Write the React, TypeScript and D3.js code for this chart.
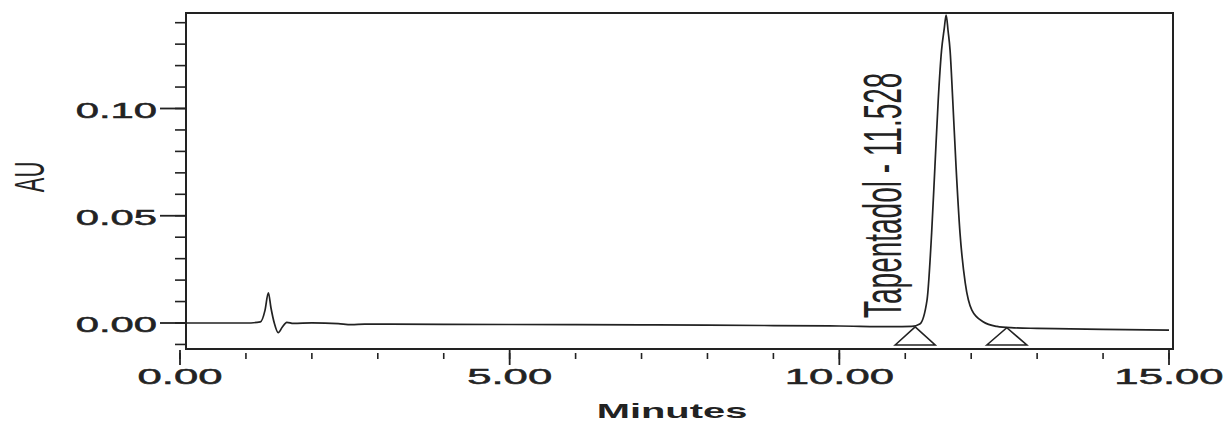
import React from "react";
import * as d3 from "d3";

// chromatogram trace (minutes, AU)
const traceTime = [
  0, 1.0, 1.22, 1.29, 1.34, 1.38, 1.43, 1.49, 1.55, 1.62, 1.72, 2.0, 2.4, 2.6, 2.8, 3.0,
  4.0, 5.0, 6.0, 7.0, 8.0, 9.0, 10.0, 10.8, 11.1, 11.22, 11.33, 11.4, 11.45, 11.5,
  11.55, 11.59, 11.62, 11.65, 11.68, 11.72, 11.77, 11.83, 11.91, 12.01, 12.18,
  12.39, 12.6, 13.0, 13.5, 14.0, 15.0,
];
const traceAU = [
  0.0, 0.0, 0.0005, 0.006, 0.0141, 0.007, 0.0, -0.0045, -0.002, 0.0003, -0.0002,
  0.0001, -0.0003, -0.0008, -0.0005, -0.0005, -0.0006, -0.0007, -0.0008, -0.0009,
  -0.001, -0.0012, -0.0014, -0.0017, -0.0016, -0.0005, 0.0107, 0.042, 0.073, 0.104,
  0.127, 0.137, 0.1435, 0.136, 0.127, 0.104, 0.073, 0.042, 0.0186, 0.006, 0.0006,
  -0.0016, -0.0022, -0.0025, -0.0027, -0.003, -0.0033,
];

// integration marks (peak start / end)
const markTime = [11.15, 12.54];
const markAU = [-0.0018, -0.0022];

const peakLabel = "Tapentadol - 11.528";
const peakLabelTime = 11.25;

const xMajor = [0, 5, 10, 15];
const xMinor = d3.range(0, 16, 1);
const yMajor = [0, 0.05, 0.1];
const yMinor = d3.range(-1, 15).map((d) => d / 100);

const W = 1225;
const H = 423;
const frame = { left: 186, right: 1173, top: 13, bottom: 349 };
const ink = "#222";
const SX = 1.9; // the scan is stretched sideways

export default function App() {
  const x = d3.scaleLinear().domain([0, 15]).range([180, 1169]);
  const y = d3.scaleLinear().domain([0, 0.1]).range([323, 108.5]);

  const line = d3
    .line<number>()
    .x((_, i) => x(traceTime[i]))
    .y((d) => y(d))
    .curve(d3.curveMonotoneX);

  const font = "'Liberation Sans', Arial, sans-serif";

  return (
    <svg
      width={W}
      height={H}
      style={{ position: "absolute", left: 0, top: 0, background: "#fff" }}
    >
      {/* frame */}
      <rect
        x={frame.left}
        y={frame.top}
        width={frame.right - frame.left}
        height={frame.bottom - frame.top}
        fill="none"
        stroke={ink}
        strokeWidth={2}
      />

      {/* y ticks */}
      {yMinor.map((v) => (
        <line
          key={"ym" + v}
          x1={175}
          x2={frame.left}
          y1={y(v)}
          y2={y(v)}
          stroke={ink}
          strokeWidth={1.6}
        />
      ))}
      {yMajor.map((v) => (
        <g key={"yM" + v}>
          <line x1={160} x2={frame.left} y1={y(v)} y2={y(v)} stroke={ink} strokeWidth={1.8} />
          <text
            transform={`translate(157,${y(v) + 9}) scale(${SX},1)`}
            textAnchor="end"
            fontFamily={font}
            fontSize={22}
            fill={ink}
            stroke={ink}
            strokeWidth={0.5}
          >
            {d3.format(".2f")(v)}
          </text>
        </g>
      ))}

      {/* x ticks */}
      {xMinor.map((t) => (
        <line
          key={"xm" + t}
          x1={x(t)}
          x2={x(t)}
          y1={353}
          y2={359}
          stroke={ink}
          strokeWidth={1.6}
        />
      ))}
      {xMajor.map((t) => (
        <g key={"xM" + t}>
          <line x1={x(t)} x2={x(t)} y1={350} y2={365} stroke={ink} strokeWidth={1.8} />
          <text
            transform={`translate(${x(t)},384) scale(${SX},1)`}
            textAnchor="middle"
            fontFamily={font}
            fontSize={23}
            fill={ink}
            stroke={ink}
            strokeWidth={0.5}
          >
            {d3.format(".2f")(t)}
          </text>
        </g>
      ))}

      {/* axis titles */}
      <text
        transform={`translate(672,418) scale(${SX},1)`}
        textAnchor="middle"
        fontFamily={font}
        fontSize={21}
        fontWeight="bold"
        fill={ink}
      >
        Minutes
      </text>
      <text
        transform={`translate(44,177) scale(${SX},1) rotate(-90)`}
        textAnchor="middle"
        fontFamily={font}
        fontSize={22}
        fill={ink}
      >
        AU
      </text>

      {/* trace */}
      <path d={line(traceAU) ?? ""} fill="none" stroke={ink} strokeWidth={1.7} />

      {/* integration triangles */}
      {markTime.map((t, i) => {
        const cx = x(t);
        const top = y(markAU[i]);
        const base = frame.bottom - 4;
        return (
          <path
            key={"tri" + i}
            d={`M${cx - 20},${base}L${cx},${top}L${cx + 20},${base}Z`}
            fill="none"
            stroke={ink}
            strokeWidth={1.6}
          />
        );
      })}

      {/* peak label */}
      <text
        transform={`translate(${x(peakLabelTime) - 21},318) scale(${SX},1) rotate(-90)`}
        textAnchor="start"
        fontFamily={font}
        fontSize={28}
        fill={ink}
      >
        {peakLabel}
      </text>
    </svg>
  );
}
